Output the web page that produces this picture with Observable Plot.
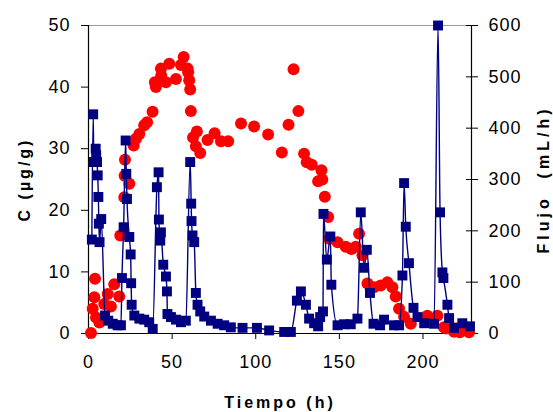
<!DOCTYPE html>
<html>
<head>
<meta charset="utf-8">
<script src="https://cdn.jsdelivr.net/npm/d3@7"></script>
<script src="https://cdn.jsdelivr.net/npm/@observablehq/plot@0.6"></script>
<style>
  body { margin: 0; background: #fff; }
  #chart svg { display: block; }
</style>
</head>
<body>
<div id="chart"></div>
<script>
// C (µg/g) series: time (h) and concentration
const cTimes = [1.5, 2.5, 3.5, 3.9, 4.5, 6.5, 9.4, 11.5, 13.4, 15.4, 18.4, 19.0, 21.4, 21.6, 21.8, 24.4,
  27.0, 28.4, 30.4, 33.3, 35.0, 38.3, 39.7, 40.3, 43.3, 43.5, 46.3, 48.3, 52.3, 55.3, 56.9, 59.3, 59.6, 60.2, 60.8, 61.2,
  62.5, 64.2, 64.8, 66.8, 71.2, 75.4, 79.2, 83.5, 91.2, 99.0, 107.4, 115.6, 119.6, 122.6, 125.5, 128.9, 130.5, 133.5,
  137.3, 139.3, 139.8, 141.3, 143.3, 143.9, 148.9, 153.8, 157.2, 159.8, 161.8, 163.8, 166.8, 170.7, 174.7, 178.7, 181.7,
  183.7, 185.7, 188.7, 192.7, 202.6, 208.6, 212.5, 213.6, 218.5, 219.5, 222.0, 225.5, 227.5];
const cValues = [0.1, 4.0, 5.9, 8.9, 2.6, 1.8, 4.8, 6.4, 4.4, 8.0, 6.0, 15.9, 22.1, 25.6, 28.2, 24.3,
  30.5, 31.6, 32.4, 33.8, 34.3, 36.0, 40.8, 40.0, 43.0, 41.9, 40.8, 43.8, 41.3, 43.6, 44.9, 43.0, 42.4, 41.1, 39.6, 36.1,
  31.8, 30.4, 32.8, 29.3, 31.4, 32.5, 31.2, 31.2, 34.1, 33.6, 32.3, 29.4, 33.9, 42.9, 36.1, 29.2, 27.8, 27.4,
  24.7, 26.5, 25.0, 22.2, 18.9, 15.4, 14.8, 14.1, 13.7, 14.1, 16.2, 12.7, 8.1, 7.5, 7.8, 8.3, 7.5,
  6.0, 4.0, 2.7, 1.6, 2.9, 2.9, 1.0, 0.8, 0.3, 0.8, 0.2, 0.8, 0.2];

// Flujo (mL/h) series: time (h) and flow
const fTimes = [2.0, 2.8, 3.2, 4.3, 4.6, 5.1, 5.5, 5.9, 6.2, 6.6, 7.6, 9.9, 11.8, 14.5, 17.4, 19.4,
  20.0, 21.0, 22.2, 22.6, 23.0, 24.4, 25.2, 25.5, 25.8, 27.4, 30.4, 33.3, 36.3, 38.4,
  40.9, 41.9, 42.1, 42.9, 43.3, 44.7, 46.3, 46.9, 47.2, 49.3, 52.3, 55.3, 58.2,
  60.8, 61.4, 61.6, 62.2, 63.2, 64.2, 65.2, 66.8, 69.2, 73.2, 77.2, 81.1, 85.1, 92.1, 100.7, 108.0, 117.0, 121.0,
  124.6, 127.0, 130.0, 131.9, 134.9, 137.3, 138.5, 140.2, 140.5, 142.5, 144.6, 145.2, 148.9, 152.8, 156.8, 160.8,
  162.8, 164.8, 166.4, 168.3, 170.4, 174.3, 176.7, 182.7, 185.7, 187.7, 188.7, 189.7, 191.6, 194.3, 196.7, 200.7, 206.6,
  209.0, 210.2, 211.6, 212.2, 214.6, 215.6, 218.5, 223.5, 228.1];
const fValues = [183, 427, 334, 360, 347, 334, 308, 266, 214, 178, 223, 35, 25, 19, 16, 16,
  108, 207, 376, 311, 262, 188, 154, 98, 56, 35, 29, 27, 22, 9,
  285, 314, 222, 181, 197, 134, 111, 82, 38, 32, 27, 22, 25,
  334, 253, 219, 191, 178, 79, 56, 43, 33, 25, 19, 16, 12, 11, 11, 6, 3, 3,
  64, 82, 56, 29, 20, 14, 32, 43, 233, 144, 189, 95, 16, 18, 18, 29,
  236, 128, 163, 79, 19, 16, 27, 16, 16, 113, 293, 208, 137, 50, 32, 20, 19,
  600, 236, 119, 108, 56, 30, 11, 20, 14];

const xTicks = [0, 50, 100, 150, 200];
const cTicks = [0, 10, 20, 30, 40, 50];
const fTicks = [0, 100, 200, 300, 400, 500, 600];
const xDomain = [0, 229];
const cDomain = [0, 50];
const fMax = 600;
const xLabel = "Tiempo (h)";
const cLabel = "C (µg/g)";
const fLabel = "Flujo  (mL/h)";

const k = fMax / cDomain[1]; // flow units per C unit (secondary axis)
const cData = cTimes.map((t, i) => ({t, c: cValues[i]}));
const fData = fTimes.map((t, i) => ({t, f: fValues[i] / k}));

const titleStyle = {text: d => d, fontWeight: "bold", fontSize: 16, fill: "#000", textAnchor: "middle", lineAnchor: "middle"};

const chart = Plot.plot({
  width: 553,
  height: 412,
  marginLeft: 88,
  marginRight: 82,
  marginTop: 25,
  marginBottom: 79,
  style: {fontFamily: "'Liberation Sans', Arial, sans-serif", fontSize: "18px", color: "#000", background: "#fff", overflow: "visible"},
  x: {domain: xDomain},
  y: {domain: cDomain},
  marks: [
    Plot.ruleY([cDomain[1]], {stroke: "#9a9a9a", strokeWidth: 1.2}),
    Plot.axisX({ticks: xTicks, tickSize: 6, tickPadding: 16, label: null, stroke: "#000", fill: "#000"}),
    Plot.axisY({anchor: "left", ticks: cTicks, tickSize: 7, tickPadding: 11, label: null, stroke: "#000", fill: "#000"}),
    Plot.axisY({anchor: "right", ticks: fTicks.map(v => v / k), tickFormat: v => Math.round(v * k), tickSize: 12, dx: -6, tickPadding: 11, label: null, stroke: "#000", fill: "#000"}),
    Plot.ruleX([xDomain[0]], {stroke: "#000", strokeWidth: 1.2}),
    Plot.ruleX([xDomain[1]], {stroke: "#000", strokeWidth: 1.2}),
    Plot.ruleY([cDomain[0]], {stroke: "#000", strokeWidth: 1.2}),
    Plot.dot(cData, {x: "t", y: "c", r: 6, fill: "#ff0000", stroke: null}),
    Plot.line(fData, {x: "t", y: "f", stroke: "#000080", strokeWidth: 1.4, curve: "monotone-x"}),
    Plot.dot(fData, {x: "t", y: "f", symbol: "square", r: 5.6, fill: "#000080", stroke: null}),
    Plot.text([xLabel], {frameAnchor: "bottom", dy: 69, ...titleStyle}),
    Plot.text([cLabel], {frameAnchor: "left", dx: -64, rotate: -90, ...titleStyle}),
    Plot.text([fLabel], {frameAnchor: "right", dx: 72, rotate: -90, ...titleStyle})
  ]
});

d3.select(chart).selectAll("text").each(function () {
  const s = this.textContent;
  if (s === xLabel || s === cLabel) d3.select(this).style("letter-spacing", "3px");
  else if (s === fLabel) d3.select(this).style("letter-spacing", "4px").style("white-space", "pre");
  else d3.select(this).style("letter-spacing", "1px");
});

document.getElementById("chart").appendChild(chart);
</script>
</body>
</html>
